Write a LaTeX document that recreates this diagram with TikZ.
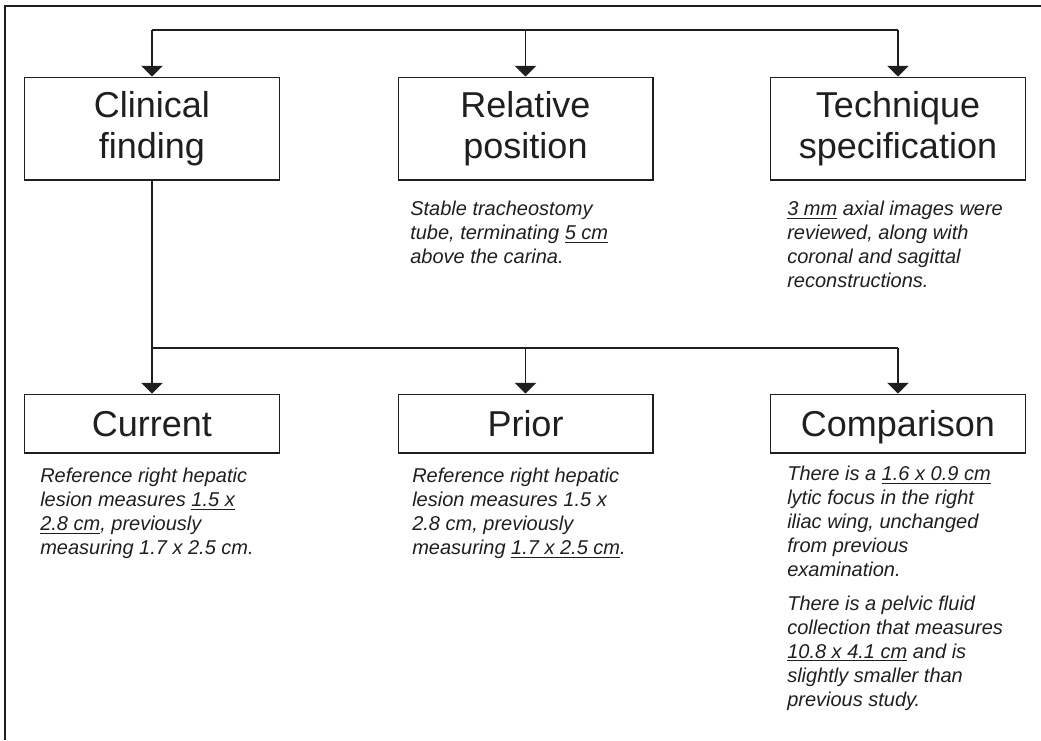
\documentclass[tikz,border=0pt]{standalone}
\usepackage{fontspec}
\setmainfont{Liberation Sans}
\usepackage{tikz}
\usetikzlibrary{arrows.meta}
\usetikzlibrary{positioning}
\definecolor{ink}{rgb}{0.12, 0.12, 0.12}
\tikzset{headbox/.style = {draw, line width = 1pt, minimum width = 191pt, align = center, inner sep = 0,
    font = \fontsize{27}{31}\selectfont}}
\tikzset{tallbox/.style = {headbox, minimum height = 77pt}}
\tikzset{flatbox/.style = {headbox, minimum height = 44pt, text height = 22pt, text depth = 2.7pt}}
\tikzset{notetext/.style = {anchor = north west, inner sep = 0, align = left,
    font = \fontsize{15}{18}\selectfont\itshape}}
\tikzset{conn/.style = {line width = 1pt}}
\tikzset{tip/.style = {conn, -{Triangle[width = 16pt, length = 8pt]}}}

\begin{document}
\begin{tikzpicture}[x = 0.75pt, y = -0.75pt, color = ink]
    \useasboundingbox (0, 0) rectangle (1041, 740);
    \draw [line width = 0.8pt] (5, 740) -- (5, 6) -- (1041, 6);

    % upper row
    \node [tallbox] (clinical) at (152, 128.5) {Clinical\\finding};
    \node [tallbox] (relpos) at (525.5, 128.5) {Relative\\position};
    \node [tallbox] (technique) at (898, 128.5) {Technique\\specification};

    \node [notetext] (relposnote) at (410, 201) {Stable tracheostomy\\tube, terminating \underline{5 cm}\\above the carina.};
    \node [notetext] (techniquenote) at (787, 201) {\underline{3 mm} axial images were\\reviewed, along with\\coronal and sagittal\\reconstructions.};

    % lower row
    \node [flatbox] (current) at (152, 423.5) {Current};
    \node [flatbox] (prior) at (525.5, 423.5) {Prior};
    \node [flatbox] (comparison) at (898, 423.5) {Comparison};

    \node [notetext] (currentnote) at (40, 468) {Reference right hepatic\\lesion measures \underline{1.5 x}\\\underline{2.8 cm}, previously\\measuring 1.7 x 2.5 cm.};
    \node [notetext] (priornote) at (412, 468) {Reference right hepatic\\lesion measures 1.5 x\\2.8 cm, previously\\measuring \underline{1.7 x 2.5 cm}.};
    \node [notetext] (comparisonnote) at (787, 466) {There is a \underline{1.6 x 0.9 cm}\\lytic focus in the right\\iliac wing, unchanged\\from previous\\examination.\\[7pt]There is a pelvic fluid\\collection that measures\\\underline{10.8 x 4.1 cm} and is\\slightly smaller than\\previous study.};

    % connectors
    \coordinate (topbus) at (0, 30);
    \coordinate (lowbus) at (0, 348);
    \draw [conn] (clinical |- topbus) -- (technique |- topbus);
    \draw [tip] (clinical |- topbus) -- (clinical);
    \draw [tip] (relpos |- topbus) -- (relpos);
    \draw [tip] (technique |- topbus) -- (technique);

    \draw [conn] (clinical) -- (clinical |- lowbus) -- (comparison |- lowbus);
    \draw [tip] (current |- lowbus) -- (current);
    \draw [tip] (prior |- lowbus) -- (prior);
    \draw [tip] (comparison |- lowbus) -- (comparison);
\end{tikzpicture}
\end{document}
